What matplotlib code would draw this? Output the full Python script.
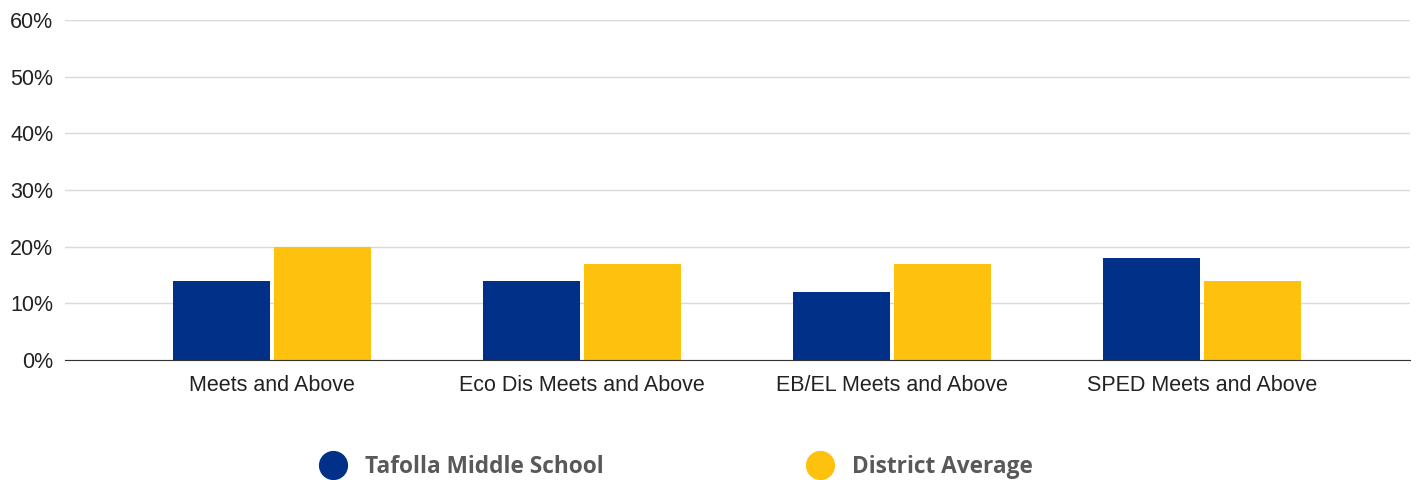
import matplotlib.pyplot as plt
from matplotlib.lines import Line2D
import numpy as np

# DATA
categories = ["Meets and Above", "Eco Dis Meets and Above", "EB/EL Meets and Above", "SPED Meets and Above"]
school = [14, 14, 12, 18]
district = [20, 17, 17, 14]
series_names = ["Tafolla Middle School", "District Average"]
yticks = [0, 10, 20, 30, 40, 50, 60]

# COLORS
blue = "#003087"
gold = "#FDC10E"

plt.rcParams['font.family'] = ['Liberation Sans', 'DejaVu Sans']

fig = plt.figure(figsize=(14.19, 4.8), dpi=100)
ax = fig.add_axes([0.0458, 0.25, 0.948, 0.7083])

x = np.arange(len(categories))
w = 0.313
ax.bar(x - 0.163, school, width=w, color=blue, zorder=3)
ax.bar(x + 0.161, district, width=w, color=gold, zorder=3)

ax.set_xlim(-0.668, 3.67)
ax.set_ylim(0, 60)
ax.set_yticks(yticks)
ax.set_yticklabels([f"{t}%" for t in yticks], fontsize=15.5, color="#222222")
ax.set_xticks(x)
ax.set_xticklabels(categories, fontsize=15.5, color="#222222")
ax.tick_params(axis='x', length=0, pad=10.5)
ax.tick_params(axis='y', length=0, pad=8.4)
ax.grid(axis='y', color="#d9d9d9", lw=1, zorder=0)
for s in ['top', 'right', 'left']:
    ax.spines[s].set_visible(False)
ax.spines['bottom'].set_color("#333333")
ax.spines['bottom'].set_zorder(4)

# Legend drawn by hand
for xpos, col, name in [(0.2347, blue, series_names[0]), (0.578, gold, series_names[1])]:
    fig.add_artist(Line2D([xpos], [0.031], marker='o', markersize=20, color=col,
                          transform=fig.transFigure, linestyle='none'))
    fig.text(xpos + 0.0225, 0.027, name, fontsize=16.3, fontweight='bold', color="#595959",
             va='center', ha='left', family=['Open Sans', 'DejaVu Sans'])

fig.savefig("out.png", dpi=100)
